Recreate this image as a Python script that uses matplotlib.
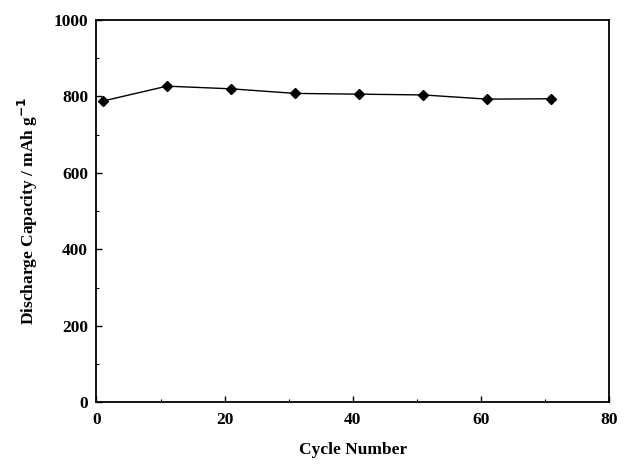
import matplotlib
matplotlib.use("Agg")
import matplotlib.pyplot as plt
from matplotlib.ticker import MultipleLocator

# cycle data
cycles = [1, 11, 21, 31, 41, 51, 61, 71]
capacity = [788, 827, 820, 808, 806, 804, 793, 794]

plt.rcParams['font.family'] = ['Liberation Serif', 'DejaVu Serif']
plt.rcParams['font.weight'] = 'bold'

fig, ax = plt.subplots(figsize=(6.39, 4.66), dpi=100)
fig.subplots_adjust(left=0.151, right=0.953, top=0.957, bottom=0.137)

ax.plot(cycles, capacity, color='black', linewidth=1.0, marker='D', markersize=5)

ax.set_xlim(0, 80)
ax.set_ylim(0, 1000)
ax.xaxis.set_major_locator(MultipleLocator(20))
ax.yaxis.set_major_locator(MultipleLocator(200))
ax.xaxis.set_minor_locator(MultipleLocator(10))
ax.yaxis.set_minor_locator(MultipleLocator(100))
ax.tick_params(which='both', direction='in', top=False, right=False, labelsize=12.5)
ax.tick_params(which='major', length=4, width=1)
ax.tick_params(which='minor', length=2, width=0.8)
ax.tick_params(axis='x', pad=7)
ax.tick_params(axis='y', pad=6)
for s in ax.spines.values():
    s.set_linewidth(1.3)

ax.set_xlabel('Cycle Number', fontsize=12.5, fontweight='bold', labelpad=10)
ax.set_ylabel('Discharge Capacity / mAh g$^{\\mathbf{-1}}$', fontsize=12.5, fontweight='bold', labelpad=10)

fig.savefig('out.png', dpi=100)
